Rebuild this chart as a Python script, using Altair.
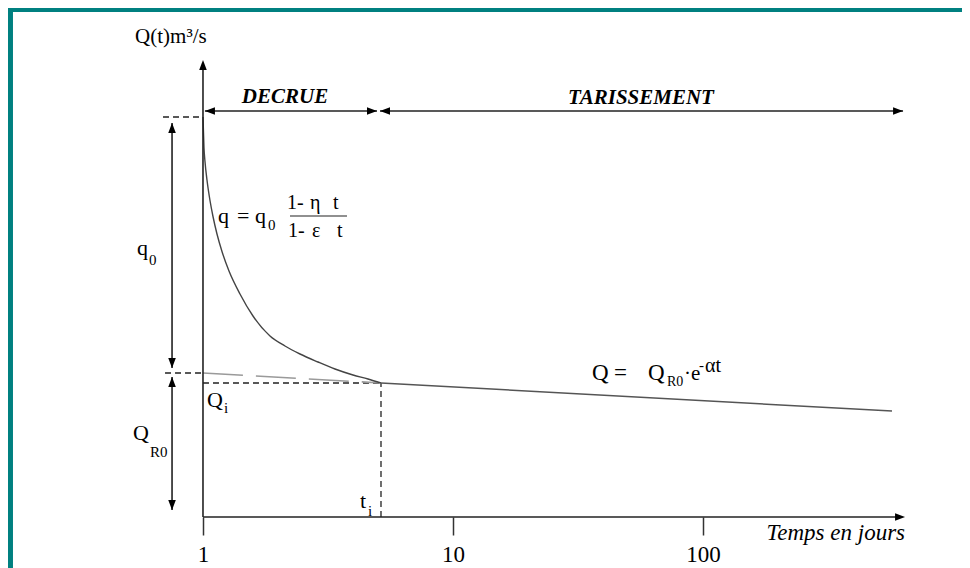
import altair as alt
import pandas as pd

# ---- data (t in days on a log axis, Q in arbitrary discharge units) ----
decrue_t = [1.000, 1.0093, 1.0186, 1.0375, 1.0666, 1.0965, 1.1376, 1.1912, 1.2706, 1.4060,
            1.5849, 1.8535, 2.1281, 2.4434, 2.8840, 3.3729, 3.9811, 4.5709, 5.1523]
decrue_q = [80.0, 73.8, 71.1, 67.4, 63.3, 60.1, 56.6, 53.1, 49.2, 44.6,
            40.2, 36.2, 34.2, 32.6, 31.0, 29.6, 28.4, 27.6, 26.8]

recess_dash_t = [1.0, 5.152]
recess_dash_q = [28.8, 26.8]
recess_t = [5.152, 570.0]
recess_q = [26.8, 21.2]

x_ticks = [1, 10, 100]

# solid rules: axes, phase arrows, q0 / QR0 arrows
solid_t = [1.0, 1.0, 1.018, 5.105, 0.752, 0.752]
solid_t2 = [1.0, 600.0, 4.966, 631.0, 0.752, 0.752]
solid_q = [0.0, 0.0, 81.2, 81.2, 78.8, 28.0]
solid_q2 = [89.5, 0.0, 81.2, 81.2, 29.8, 1.4]

frac_t, frac_t2, frac_q = [2.228], [3.767], [60.2]

# dashed guide lines: q0 level, QR0 level, Qi level, ti
dash_t = [0.692, 0.705, 1.0, 5.152]
dash_t2 = [1.0, 1.0, 5.152, 5.152]
dash_q = [80.0, 28.8, 26.8, 0.0]
dash_q2 = [80.0, 28.8, 26.8, 26.8]

# arrowheads (tip position, direction)
head_t = [1.0, 642.7, 1.018, 4.966, 5.105, 631.0, 0.752, 0.752, 0.752, 0.752]
head_q = [91.4, 0.0, 81.2, 81.2, 81.2, 81.2, 78.8, 29.8, 28.0, 1.4]
head_a = [270, 0, 180, 0, 180, 0, 270, 90, 270, 90]

# texts (left aligned, regular serif)
txt_label = ["Q(t)m³/s",
             "q", "=", "q", "0",
             "1-", "η", "t", "1-", "ε", "t",
             "q", "0", "Q", "R0", "Q", "i", "t", "i",
             "Q", "=", "Q", "R0", "·e", "-", "αt"]
txt_t = [0.535,
         1.148, 1.368, 1.614, 1.820,
         2.168, 2.679, 3.311, 2.187, 2.729, 3.436,
         0.545, 0.608, 0.525, 0.614, 1.038, 1.213, 4.246, 4.571,
         35.97, 44.06, 60.26, 71.78, 83.95, 96.38, 101.9]
txt_q = [94.8,
         58.8, 58.8, 58.8, 57.4,
         61.6, 61.6, 61.6, 56.0, 56.0, 56.0,
         52.4, 50.4, 15.4, 12.0, 22.0, 20.8, 1.8, 0.2,
         27.4, 27.4, 27.4, 26.2, 27.4, 29.4, 29.0]
txt_size = [21,
            22, 22, 22, 15,
            20, 20, 20, 20, 20, 20,
            22, 15, 22, 15, 22, 15, 22, 15,
            23, 23, 23, 14, 21, 15, 20]

phase_label = ["DECRUE", "TARISSEMENT"]
phase_t = [2.128, 56.49]
phase_q = [82.8, 82.6]

xtitle_label = ["Temps en jours"]
xtitle_t = [642.7]
xtitle_q = [-4.6]

# decorative frame
frame_t = [0.166, 0.166]
frame_t2 = [1086.0, 0.1738]
frame_q = [101.8, 101.8]
frame_q2 = [101.0, -10.2]

# ---- chart ----
FONT = "'Liberation Serif', 'Times New Roman', Times, 'DejaVu Serif', serif"
xs = alt.Scale(type="log", domain=[0.166, 1086], nice=False)
ys = alt.Scale(domain=[0, 101.8], nice=False, zero=False)
xaxis = alt.Axis(values=x_ticks, format="d", title=None, domain=False, grid=False,
                 tickSize=18, tickColor="#333333", tickWidth=1.5,
                 labelFont=FONT, labelFontSize=23, labelColor="black",
                 labelPadding=8, labelFlush=False, labelOverlap=False)


def X(f="t"):
    return alt.X(f"{f}:Q", scale=xs, axis=xaxis)


def Y(f="q"):
    return alt.Y(f"{f}:Q", scale=ys, axis=None)


frame = alt.Chart(pd.DataFrame(dict(t=frame_t, t2=frame_t2, q=frame_q, q2=frame_q2))).mark_rect(
    color="#008080").encode(x=X(), x2="t2:Q", y=Y(), y2="q2:Q")

solid = alt.Chart(pd.DataFrame(dict(t=solid_t, t2=solid_t2, q=solid_q, q2=solid_q2))).mark_rule(
    color="#222222", strokeWidth=1.6).encode(x=X(), x2="t2:Q", y=Y(), y2="q2:Q")

frac = alt.Chart(pd.DataFrame(dict(t=frac_t, t2=frac_t2, q=frac_q))).mark_rule(
    color="#222222", strokeWidth=1.2).encode(x=X(), x2="t2:Q", y=Y())

dashed = alt.Chart(pd.DataFrame(dict(t=dash_t, t2=dash_t2, q=dash_q, q2=dash_q2))).mark_rule(
    color="#222222", strokeWidth=1.3, strokeDash=[6, 4]).encode(x=X(), x2="t2:Q", y=Y(), y2="q2:Q")

curve = alt.Chart(pd.DataFrame(dict(t=decrue_t, q=decrue_q))).mark_line(
    color="#444444", strokeWidth=1.4, interpolate="monotone").encode(x=X(), y=Y(), order="t:Q")

rec_dash = alt.Chart(pd.DataFrame(dict(t=recess_dash_t, q=recess_dash_q))).mark_line(
    color="#9a9a9a", strokeWidth=1.6, strokeDash=[40, 13]).encode(x=X(), y=Y())

rec = alt.Chart(pd.DataFrame(dict(t=recess_t, q=recess_q))).mark_line(
    color="#555555", strokeWidth=1.5).encode(x=X(), y=Y())

heads = alt.Chart(pd.DataFrame(dict(t=head_t, q=head_q, a=head_a))).mark_point(
    shape="M0,0L-1,-0.38L-1,0.38Z", filled=True, color="black", opacity=1, size=400).encode(
    x=X(), y=Y(), angle=alt.Angle("a:Q", scale=None))

texts = alt.Chart(pd.DataFrame(dict(label=txt_label, t=txt_t, q=txt_q, s=txt_size))).mark_text(
    font=FONT, color="black", align="left", baseline="alphabetic").encode(
    x=X(), y=Y(), text="label:N", size=alt.Size("s:Q", scale=None))

phases = alt.Chart(pd.DataFrame(dict(label=phase_label, t=phase_t, q=phase_q))).mark_text(
    font=FONT, color="black", align="center", baseline="alphabetic", fontSize=21,
    fontStyle="italic", fontWeight="bold").encode(x=X(), y=Y(), text="label:N")

xtitle = alt.Chart(pd.DataFrame(dict(label=xtitle_label, t=xtitle_t, q=xtitle_q))).mark_text(
    font=FONT, color="black", align="right", baseline="alphabetic", fontSize=23,
    fontStyle="italic").encode(x=X(), y=Y(), text="label:N")

chart = alt.layer(frame, dashed, rec_dash, rec, curve, solid, frac, heads,
                  texts, phases, xtitle).properties(
    width=954, height=509, padding=0, background="white"
).configure_view(stroke=None)

chart.save("out.html", embed_options={"renderer": "svg", "actions": False})
